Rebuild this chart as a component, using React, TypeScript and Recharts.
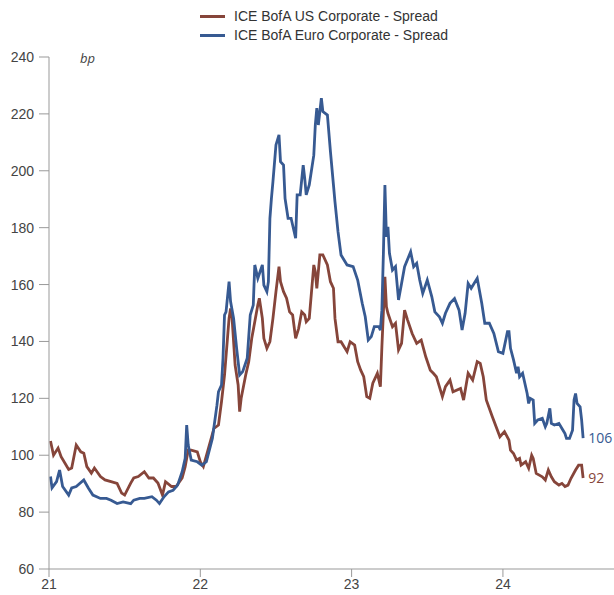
import React from 'react'
import { Line, LineChart, XAxis, YAxis } from 'recharts'

// decimal year (21 = Jan 2021) and spread in bp
const usDates = [
  21.01, 21.03, 21.06, 21.08, 21.13, 21.15, 21.18, 21.21, 21.23, 21.25, 21.28, 21.30, 21.34, 21.37, 21.41, 21.45,
  21.48, 21.50, 21.54, 21.56, 21.59, 21.63, 21.66, 21.69, 21.72, 21.75, 21.77, 21.81, 21.84, 21.88, 21.90, 21.92,
  21.94, 21.98, 22.00, 22.02, 22.09, 22.12, 22.14, 22.16, 22.19, 22.20, 22.21, 22.23, 22.25, 22.26, 22.27, 22.30,
  22.32, 22.34, 22.36, 22.38, 22.39, 22.41, 22.42, 22.44, 22.46, 22.48, 22.50, 22.52, 22.53, 22.55, 22.57, 22.59,
  22.61, 22.63, 22.65, 22.67, 22.69, 22.70, 22.72, 22.75, 22.76, 22.77, 22.79, 22.81, 22.84, 22.86, 22.88, 22.89,
  22.91, 22.93, 22.97, 22.99, 23.02, 23.04, 23.06, 23.08, 23.10, 23.12, 23.14, 23.17, 23.19, 23.20, 23.22, 23.23,
  23.24, 23.27, 23.29, 23.31, 23.33, 23.35, 23.37, 23.40, 23.43, 23.46, 23.49, 23.52, 23.54, 23.56, 23.60, 23.62,
  23.65, 23.67, 23.72, 23.74, 23.77, 23.80, 23.83, 23.85, 23.87, 23.89, 23.93, 23.98, 24.01, 24.04, 24.05, 24.07,
  24.09, 24.11, 24.12, 24.15, 24.17, 24.19, 24.20, 24.22, 24.26, 24.28, 24.30, 24.32, 24.34, 24.37, 24.39, 24.41,
  24.43, 24.45, 24.48, 24.50, 24.52, 24.53,
]
const usSpread = [
  105, 100, 102.5, 99.5, 95, 95.5, 103.6, 101.2, 100.7, 96, 93.7, 95.5, 92.5, 91.3, 90.7, 90.1,
  86.7, 86, 90.2, 92, 92.5, 94.2, 92, 92, 90.2, 86, 90.7, 89, 89, 92, 96, 101.8,
  101.8, 101.2, 97.7, 96, 109.4, 110.6, 118.8, 128.2, 148.1, 151.6, 148.1, 131.7, 124.7, 115.3, 120, 128.2,
  132.9, 141.1, 146.9, 152.8, 155.2, 148.1, 141.1, 137.6, 139.9, 148.1, 157.5, 166.3, 161, 157.5, 155.2, 150.4,
  149.3, 141.1, 144.6, 150.4, 149.3, 146.9, 148.1, 166.9, 164.5, 158.7, 170.4, 170.4, 166.9, 161, 158.7, 148.1,
  139.9, 139.9, 136.4, 139.9, 138.7, 132.9, 129.9, 127.6, 120.6, 120, 125.3, 128.8, 124.1, 138.1, 162.7, 152.2,
  149.9, 145.2, 146.4, 137, 139.3, 151, 147.5, 142.8, 139.3, 140.5, 134.6, 129.9, 128.8, 127.6, 120.6, 124.1,
  126.4, 122.3, 123.5, 119.4, 128.8, 126.4, 132.9, 132.3, 127.6, 119.4, 113.5, 106.5, 108.3, 105.3, 101.8, 100.6,
  98.3, 98.9, 96.5, 97.7, 95.4, 100, 98.9, 93.6, 92.4, 91.3, 94.8, 92.4, 90.7, 89.5, 90.1, 89,
  89.5, 91.9, 94.8, 96.5, 96.5, 92,
]

const euroDates = [
  21.01, 21.02, 21.05, 21.07, 21.09, 21.13, 21.15, 21.18, 21.23, 21.26, 21.29, 21.34, 21.38, 21.41, 21.45, 21.49,
  21.54, 21.56, 21.60, 21.63, 21.68, 21.71, 21.73, 21.76, 21.79, 21.82, 21.85, 21.88, 21.90, 21.91, 21.92, 21.94,
  21.98, 22.01, 22.04, 22.08, 22.11, 22.12, 22.14, 22.15, 22.16, 22.17, 22.19, 22.20, 22.22, 22.24, 22.26, 22.28,
  22.31, 22.33, 22.35, 22.36, 22.38, 22.41, 22.42, 22.44, 22.45, 22.46, 22.47, 22.48, 22.50, 22.52, 22.53, 22.55,
  22.56, 22.58, 22.60, 22.63, 22.64, 22.66, 22.68, 22.69, 22.70, 22.72, 22.75, 22.76, 22.77, 22.78, 22.80, 22.81,
  22.84, 22.86, 22.88, 22.89, 22.91, 22.93, 22.97, 23.01, 23.04, 23.07, 23.09, 23.11, 23.13, 23.15, 23.18, 23.19,
  23.20, 23.21, 23.22, 23.23, 23.24, 23.25, 23.27, 23.29, 23.31, 23.33, 23.35, 23.39, 23.41, 23.43, 23.45, 23.47,
  23.50, 23.53, 23.55, 23.58, 23.60, 23.62, 23.65, 23.68, 23.71, 23.73, 23.75, 23.77, 23.79, 23.83, 23.86, 23.88,
  23.91, 23.94, 23.97, 24.00, 24.03, 24.04, 24.05, 24.07, 24.09, 24.10, 24.11, 24.13, 24.16, 24.17, 24.18, 24.20,
  24.21, 24.23, 24.26, 24.28, 24.29, 24.31, 24.32, 24.34, 24.37, 24.39, 24.41, 24.42, 24.44, 24.46, 24.47, 24.48,
  24.49, 24.51, 24.52, 24.53,
]
const euroSpread = [
  92.5, 88.5, 90.7, 94.8, 89, 86, 88.5, 89, 91.3, 88.5, 86, 84.8, 84.8, 84.2, 83, 83.6,
  83, 84.2, 84.8, 84.8, 85.4, 84.2, 83, 85.4, 87.1, 87.7, 89.5, 94.2, 98.9, 110.6, 103.6, 98.3,
  97.7, 96.5, 97.7, 106, 117.6, 122.3, 124.7, 134.1, 149.3, 150.4, 161, 154, 148.1, 137.6, 128.2, 129.4,
  134.1, 149.3, 152.8, 166.9, 162.2, 166.9, 159.8, 157.5, 161, 183.3, 190.3, 196.2, 209.1, 212.6, 203.2, 202,
  190.3, 183.3, 183.3, 176.3, 191.5, 191.5, 202, 197.3, 191.5, 195, 205.5, 216.1, 222, 216.1, 225.5, 220.8,
  219.6, 206.7, 195, 189.1, 178.6, 170.4, 166.9, 166.3, 161.6, 153.4, 148.7, 140.5, 141.7, 145.2, 145.2, 144,
  151, 171, 195, 176.8, 180.3, 171, 165.1, 166.3, 154.6, 160.4, 166.3, 171.5, 166.3, 167.5, 161.6, 156.9,
  161.6, 155.7, 150.4, 148.7, 146.4, 149.9, 153.4, 155.1, 151, 144, 149.9, 160.4, 158.7, 162.2, 153.4, 146.4,
  146.4, 142.8, 136.4, 135.8, 143.4, 143.4, 137.6, 133.5, 128.8, 131.1, 127.6, 128.8, 121.7, 118.2, 120, 119.4,
  111.2, 112.4, 113, 110, 111.2, 116.5, 111.2, 110.6, 111.2, 109.4, 107.6, 105.9, 105.9, 108.8, 119.4, 121.7,
  118.2, 117, 112.4, 106,
]

const yTicks = [60, 80, 100, 120, 140, 160, 180, 200, 220, 240]
const xTicks = [21, 22, 23, 24]

const US_COLOR = '#86453a'
const EURO_COLOR = '#375a92'
const FONT = '"Liberation Sans", Arial, sans-serif'

const usData = usDates.map((t, i) => ({ t, v: usSpread[i] }))
const euroData = euroDates.map((t, i) => ({ t, v: euroSpread[i] }))

const endLabel = (color: string, count: number) => (props: any) => {
  const { x, y, index, value } = props
  if (index !== count - 1) return null
  return (
    <text x={x + 5} y={y} dy={5} fill={color} fontSize={14} fontFamily='"Open Sans", sans-serif'>
      {Math.round(value)}
    </text>
  )
}

const legendItems = [
  { name: 'ICE BofA US Corporate - Spread', color: US_COLOR },
  { name: 'ICE BofA Euro Corporate - Spread', color: EURO_COLOR },
]

export default function App() {
  const axisColor = '#999'
  const tick = { fill: '#444', fontSize: 14, fontFamily: FONT }

  return (
    <div style={{ position: 'absolute', left: 0, top: 0, width: 614, height: 595, background: '#fff' }}>
      <LineChart width={614} height={595} margin={{ top: 57, right: 0, bottom: 0, left: 0 }}>
        <XAxis
          dataKey="t"
          type="number"
          domain={[21, 24.734]}
          ticks={xTicks}
          allowDataOverflow
          height={26}
          stroke={axisColor}
          tickSize={8}
          tickMargin={2}
          tick={tick}
          tickFormatter={(v) => String(v)}
        />
        <YAxis
          type="number"
          domain={[60, 240]}
          ticks={yTicks}
          width={49}
          stroke={axisColor}
          tickSize={10}
          tickMargin={5}
          tick={tick}
          interval={0}
        />
        <Line
          data={usData}
          dataKey="v"
          name="ICE BofA US Corporate - Spread"
          stroke={US_COLOR}
          strokeWidth={2.8}
          dot={false}
          isAnimationActive={false}
          label={endLabel(US_COLOR, usData.length)}
        />
        <Line
          data={euroData}
          dataKey="v"
          name="ICE BofA Euro Corporate - Spread"
          stroke={EURO_COLOR}
          strokeWidth={2.8}
          dot={false}
          isAnimationActive={false}
          label={endLabel(EURO_COLOR, euroData.length)}
        />
      </LineChart>
      <div
        style={{
          position: 'absolute',
          left: 200,
          top: 7,
          fontFamily: FONT,
          fontSize: 14,
          color: '#333',
          lineHeight: '19px',
        }}
      >
        {legendItems.map((it) => (
          <div key={it.name} style={{ display: 'flex', alignItems: 'center' }}>
            <span style={{ width: 25, height: 3, background: it.color, marginRight: 9 }} />
            {it.name}
          </div>
        ))}
      </div>
      <div
        style={{
          position: 'absolute',
          left: 80,
          top: 49,
          fontFamily: '"Open Sans", sans-serif',
          fontStyle: 'italic',
          fontSize: 13,
          color: '#444',
        }}
      >
        bp
      </div>
    </div>
  )
}
